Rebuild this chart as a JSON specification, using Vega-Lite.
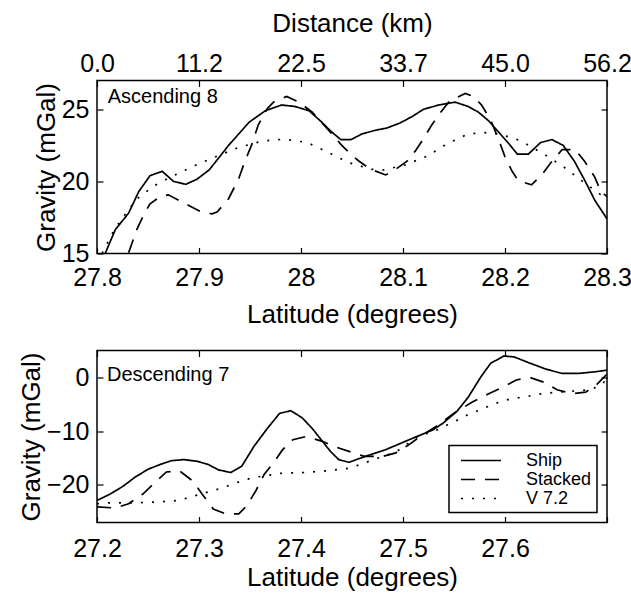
{
  "$schema": "https://vega.github.io/schema/vega-lite/v6.json",
  "padding": {"left": 17, "top": 9.5, "right": 0, "bottom": 0},
  "config": {
    "font": "Liberation Sans",
    "view": {"stroke": "black", "strokeWidth": 1.5},
    "axis": {"grid": false, "domain": false, "tickColor": "black", "tickWidth": 1.2, "tickSize": -6, "labelColor": "black", "titleColor": "black", "labelFontSize": 25, "titleFontSize": 26, "titleFontWeight": "normal", "labelFlush": false, "labelOverlap": false, "labelBound": false},
    "legend": {"strokeWidth": 1.5},
    "text": {"color": "black"}
  },
  "datasets": {
    "asc": [
      {"series":"Ship","lat":27.808,"grav":15.0},{"series":"Ship","lat":27.818,"grav":16.66},{"series":"Ship","lat":27.831,"grav":17.8},{"series":"Ship","lat":27.841,"grav":19.3},{"series":"Ship","lat":27.852,"grav":20.4},{"series":"Ship","lat":27.864,"grav":20.7},{"series":"Ship","lat":27.875,"grav":20.0},{"series":"Ship","lat":27.887,"grav":19.8},{"series":"Ship","lat":27.898,"grav":20.15},{"series":"Ship","lat":27.910,"grav":20.8},{"series":"Ship","lat":27.919,"grav":21.6},{"series":"Ship","lat":27.929,"grav":22.5},{"series":"Ship","lat":27.939,"grav":23.3},{"series":"Ship","lat":27.949,"grav":24.1},{"series":"Ship","lat":27.965,"grav":24.9},{"series":"Ship","lat":27.981,"grav":25.3},{"series":"Ship","lat":27.994,"grav":25.2},{"series":"Ship","lat":28.008,"grav":24.9},{"series":"Ship","lat":28.019,"grav":24.2},{"series":"Ship","lat":28.029,"grav":23.5},{"series":"Ship","lat":28.039,"grav":22.9},{"series":"Ship","lat":28.049,"grav":22.9},{"series":"Ship","lat":28.060,"grav":23.3},{"series":"Ship","lat":28.073,"grav":23.55},{"series":"Ship","lat":28.084,"grav":23.7},{"series":"Ship","lat":28.097,"grav":24.05},{"series":"Ship","lat":28.109,"grav":24.5},{"series":"Ship","lat":28.120,"grav":25.0},{"series":"Ship","lat":28.135,"grav":25.3},{"series":"Ship","lat":28.151,"grav":25.5},{"series":"Ship","lat":28.164,"grav":25.2},{"series":"Ship","lat":28.174,"grav":24.8},{"series":"Ship","lat":28.184,"grav":24.2},{"series":"Ship","lat":28.194,"grav":23.4},{"series":"Ship","lat":28.204,"grav":22.6},{"series":"Ship","lat":28.212,"grav":21.9},{"series":"Ship","lat":28.223,"grav":21.9},{"series":"Ship","lat":28.235,"grav":22.7},{"series":"Ship","lat":28.246,"grav":22.9},{"series":"Ship","lat":28.257,"grav":22.5},{"series":"Ship","lat":28.268,"grav":21.4},{"series":"Ship","lat":28.278,"grav":20.1},{"series":"Ship","lat":28.288,"grav":18.7},{"series":"Ship","lat":28.3,"grav":17.4},
      {"series":"Stacked","lat":27.831,"grav":15.05},{"series":"Stacked","lat":27.839,"grav":16.66},{"series":"Stacked","lat":27.846,"grav":17.7},{"series":"Stacked","lat":27.852,"grav":18.45},{"series":"Stacked","lat":27.862,"grav":18.95},{"series":"Stacked","lat":27.870,"grav":19.07},{"series":"Stacked","lat":27.880,"grav":18.7},{"series":"Stacked","lat":27.890,"grav":18.33},{"series":"Stacked","lat":27.903,"grav":17.85},{"series":"Stacked","lat":27.913,"grav":17.75},{"series":"Stacked","lat":27.918,"grav":17.9},{"series":"Stacked","lat":27.929,"grav":18.8},{"series":"Stacked","lat":27.939,"grav":20.2},{"series":"Stacked","lat":27.945,"grav":21.4},{"series":"Stacked","lat":27.952,"grav":22.6},{"series":"Stacked","lat":27.958,"grav":23.9},{"series":"Stacked","lat":27.967,"grav":25.05},{"series":"Stacked","lat":27.973,"grav":25.5},{"series":"Stacked","lat":27.986,"grav":25.9},{"series":"Stacked","lat":27.998,"grav":25.5},{"series":"Stacked","lat":28.011,"grav":24.8},{"series":"Stacked","lat":28.024,"grav":23.8},{"series":"Stacked","lat":28.040,"grav":22.5},{"series":"Stacked","lat":28.050,"grav":21.8},{"series":"Stacked","lat":28.057,"grav":21.4},{"series":"Stacked","lat":28.068,"grav":20.85},{"series":"Stacked","lat":28.083,"grav":20.45},{"series":"Stacked","lat":28.092,"grav":20.8},{"series":"Stacked","lat":28.104,"grav":21.4},{"series":"Stacked","lat":28.112,"grav":22.1},{"series":"Stacked","lat":28.120,"grav":22.95},{"series":"Stacked","lat":28.128,"grav":23.9},{"series":"Stacked","lat":28.137,"grav":24.8},{"series":"Stacked","lat":28.146,"grav":25.6},{"series":"Stacked","lat":28.161,"grav":26.1},{"series":"Stacked","lat":28.169,"grav":25.9},{"series":"Stacked","lat":28.177,"grav":25.3},{"series":"Stacked","lat":28.186,"grav":24.25},{"series":"Stacked","lat":28.194,"grav":22.86},{"series":"Stacked","lat":28.200,"grav":21.7},{"series":"Stacked","lat":28.207,"grav":20.7},{"series":"Stacked","lat":28.213,"grav":20.05},{"series":"Stacked","lat":28.226,"grav":19.76},{"series":"Stacked","lat":28.236,"grav":20.45},{"series":"Stacked","lat":28.246,"grav":21.4},{"series":"Stacked","lat":28.256,"grav":22.2},{"series":"Stacked","lat":28.269,"grav":22.2},{"series":"Stacked","lat":28.278,"grav":21.4},{"series":"Stacked","lat":28.288,"grav":20.3},{"series":"Stacked","lat":28.294,"grav":19.3},{"series":"Stacked","lat":28.3,"grav":18.95},
      {"series":"V 7.2","lat":27.805,"grav":15.0},{"series":"V 7.2","lat":27.817,"grav":16.66},{"series":"V 7.2","lat":27.838,"grav":18.72},{"series":"V 7.2","lat":27.856,"grav":19.7},{"series":"V 7.2","lat":27.875,"grav":20.4},{"series":"V 7.2","lat":27.896,"grav":21.1},{"series":"V 7.2","lat":27.918,"grav":21.76},{"series":"V 7.2","lat":27.939,"grav":22.36},{"series":"V 7.2","lat":27.962,"grav":22.8},{"series":"V 7.2","lat":27.983,"grav":22.93},{"series":"V 7.2","lat":28.006,"grav":22.7},{"series":"V 7.2","lat":28.027,"grav":22.0},{"series":"V 7.2","lat":28.047,"grav":21.3},{"series":"V 7.2","lat":28.069,"grav":20.84},{"series":"V 7.2","lat":28.081,"grav":20.8},{"series":"V 7.2","lat":28.102,"grav":21.14},{"series":"V 7.2","lat":28.124,"grav":21.76},{"series":"V 7.2","lat":28.143,"grav":22.6},{"series":"V 7.2","lat":28.164,"grav":23.3},{"series":"V 7.2","lat":28.186,"grav":23.4},{"series":"V 7.2","lat":28.209,"grav":23.0},{"series":"V 7.2","lat":28.218,"grav":22.7},{"series":"V 7.2","lat":28.238,"grav":21.9},{"series":"V 7.2","lat":28.258,"grav":20.98},{"series":"V 7.2","lat":28.275,"grav":20.06},{"series":"V 7.2","lat":28.294,"grav":19.07},{"series":"V 7.2","lat":28.3,"grav":18.8}
    ],
    "desc": [
      {"series":"Ship","lat":27.2,"grav":-22.9},{"series":"Ship","lat":27.213,"grav":-21.7},{"series":"Ship","lat":27.226,"grav":-20.2},{"series":"Ship","lat":27.237,"grav":-18.6},{"series":"Ship","lat":27.250,"grav":-17.1},{"series":"Ship","lat":27.262,"grav":-16.2},{"series":"Ship","lat":27.273,"grav":-15.5},{"series":"Ship","lat":27.285,"grav":-15.3},{"series":"Ship","lat":27.298,"grav":-15.6},{"series":"Ship","lat":27.309,"grav":-16.2},{"series":"Ship","lat":27.319,"grav":-17.2},{"series":"Ship","lat":27.331,"grav":-17.7},{"series":"Ship","lat":27.342,"grav":-16.5},{"series":"Ship","lat":27.354,"grav":-12.8},{"series":"Ship","lat":27.367,"grav":-9.5},{"series":"Ship","lat":27.379,"grav":-6.7},{"series":"Ship","lat":27.390,"grav":-6.2},{"series":"Ship","lat":27.401,"grav":-7.5},{"series":"Ship","lat":27.411,"grav":-9.5},{"series":"Ship","lat":27.421,"grav":-11.9},{"series":"Ship","lat":27.429,"grav":-13.8},{"series":"Ship","lat":27.437,"grav":-15.3},{"series":"Ship","lat":27.447,"grav":-15.8},{"series":"Ship","lat":27.463,"grav":-14.7},{"series":"Ship","lat":27.483,"grav":-13.45},{"series":"Ship","lat":27.506,"grav":-11.6},{"series":"Ship","lat":27.529,"grav":-9.8},{"series":"Ship","lat":27.539,"grav":-8.55},{"series":"Ship","lat":27.553,"grav":-6.3},{"series":"Ship","lat":27.564,"grav":-3.67},{"series":"Ship","lat":27.576,"grav":0.0},{"series":"Ship","lat":27.586,"grav":2.63},{"series":"Ship","lat":27.599,"grav":3.98},{"series":"Ship","lat":27.609,"grav":3.8},{"series":"Ship","lat":27.623,"grav":2.75},{"series":"Ship","lat":27.640,"grav":1.54},{"series":"Ship","lat":27.656,"grav":0.73},{"series":"Ship","lat":27.672,"grav":0.73},{"series":"Ship","lat":27.689,"grav":1.05},{"series":"Ship","lat":27.7,"grav":1.35},
      {"series":"Stacked","lat":27.2,"grav":-24.1},{"series":"Stacked","lat":27.218,"grav":-24.3},{"series":"Stacked","lat":27.231,"grav":-23.5},{"series":"Stacked","lat":27.245,"grav":-21.7},{"series":"Stacked","lat":27.255,"grav":-19.9},{"series":"Stacked","lat":27.268,"grav":-17.6},{"series":"Stacked","lat":27.281,"grav":-17.4},{"series":"Stacked","lat":27.294,"grav":-19.3},{"series":"Stacked","lat":27.303,"grav":-21.7},{"series":"Stacked","lat":27.314,"grav":-24.5},{"series":"Stacked","lat":27.326,"grav":-25.4},{"series":"Stacked","lat":27.339,"grav":-25.4},{"series":"Stacked","lat":27.347,"grav":-23.85},{"series":"Stacked","lat":27.356,"grav":-21.0},{"series":"Stacked","lat":27.364,"grav":-18.0},{"series":"Stacked","lat":27.373,"grav":-15.9},{"series":"Stacked","lat":27.382,"grav":-13.45},{"series":"Stacked","lat":27.392,"grav":-11.6},{"series":"Stacked","lat":27.405,"grav":-11.0},{"series":"Stacked","lat":27.421,"grav":-11.9},{"series":"Stacked","lat":27.434,"grav":-12.95},{"series":"Stacked","lat":27.447,"grav":-13.76},{"series":"Stacked","lat":27.462,"grav":-14.7},{"series":"Stacked","lat":27.480,"grav":-14.7},{"series":"Stacked","lat":27.493,"grav":-14.05},{"series":"Stacked","lat":27.506,"grav":-12.5},{"series":"Stacked","lat":27.519,"grav":-10.7},{"series":"Stacked","lat":27.532,"grav":-9.2},{"series":"Stacked","lat":27.552,"grav":-6.4},{"series":"Stacked","lat":27.568,"grav":-4.6},{"series":"Stacked","lat":27.584,"grav":-3.05},{"series":"Stacked","lat":27.598,"grav":-1.83},{"series":"Stacked","lat":27.611,"grav":-0.48},{"series":"Stacked","lat":27.624,"grav":0.0},{"series":"Stacked","lat":27.638,"grav":-0.9},{"series":"Stacked","lat":27.651,"grav":-2.3},{"series":"Stacked","lat":27.666,"grav":-3.05},{"series":"Stacked","lat":27.679,"grav":-2.75},{"series":"Stacked","lat":27.689,"grav":-1.5},{"series":"Stacked","lat":27.7,"grav":0.6},
      {"series":"V 7.2","lat":27.2,"grav":-23.5},{"series":"V 7.2","lat":27.211,"grav":-23.35},{"series":"V 7.2","lat":27.234,"grav":-23.35},{"series":"V 7.2","lat":27.257,"grav":-23.2},{"series":"V 7.2","lat":27.280,"grav":-22.9},{"series":"V 7.2","lat":27.291,"grav":-22.3},{"series":"V 7.2","lat":27.313,"grav":-21.1},{"series":"V 7.2","lat":27.324,"grav":-20.5},{"series":"V 7.2","lat":27.335,"grav":-19.7},{"series":"V 7.2","lat":27.347,"grav":-18.95},{"series":"V 7.2","lat":27.358,"grav":-18.5},{"series":"V 7.2","lat":27.369,"grav":-18.2},{"series":"V 7.2","lat":27.380,"grav":-17.85},{"series":"V 7.2","lat":27.403,"grav":-17.7},{"series":"V 7.2","lat":27.425,"grav":-17.4},{"series":"V 7.2","lat":27.447,"grav":-16.9},{"series":"V 7.2","lat":27.460,"grav":-16.1},{"series":"V 7.2","lat":27.471,"grav":-15.3},{"series":"V 7.2","lat":27.483,"grav":-14.55},{"series":"V 7.2","lat":27.494,"grav":-13.76},{"series":"V 7.2","lat":27.512,"grav":-11.3},{"series":"V 7.2","lat":27.524,"grav":-10.4},{"series":"V 7.2","lat":27.535,"grav":-9.65},{"series":"V 7.2","lat":27.545,"grav":-8.7},{"series":"V 7.2","lat":27.555,"grav":-7.8},{"series":"V 7.2","lat":27.564,"grav":-6.9},{"series":"V 7.2","lat":27.576,"grav":-6.0},{"series":"V 7.2","lat":27.586,"grav":-5.2},{"series":"V 7.2","lat":27.597,"grav":-4.4},{"series":"V 7.2","lat":27.609,"grav":-3.85},{"series":"V 7.2","lat":27.619,"grav":-3.67},{"series":"V 7.2","lat":27.630,"grav":-3.23},{"series":"V 7.2","lat":27.642,"grav":-2.9},{"series":"V 7.2","lat":27.663,"grav":-2.6},{"series":"V 7.2","lat":27.684,"grav":-2.3},{"series":"V 7.2","lat":27.696,"grav":-1.2},{"series":"V 7.2","lat":27.7,"grav":0.0}
    ]
  },
  "spacing": 20,
  "resolve": {"scale": {"strokeDash": "independent"}, "legend": {"strokeDash": "independent"}},
  "vconcat": [
    {
      "width": 510,
      "height": 173,
      "layer": [
        {
          "data": {"name": "asc"},
          "mark": {"type": "line", "color": "black", "strokeWidth": 1.7, "clip": true},
          "encoding": {
            "x": {"field": "lat", "type": "quantitative", "scale": {"domain": [27.8, 28.3], "nice": false, "zero": false},
                  "axis": {"orient": "bottom", "values": [27.8, 27.9, 28, 28.1, 28.2, 28.3], "labelExpr": "'' + datum.value", "title": "Latitude (degrees)", "labelPadding": 17.5, "titlePadding": 11.5}},
            "y": {"field": "grav", "type": "quantitative", "scale": {"domain": [15, 27], "nice": false, "zero": false},
                  "axis": {"orient": "left", "values": [15, 20, 25], "title": "Gravity (mGal)", "labelPadding": 14, "titlePadding": 2}},
            "strokeDash": {"field": "series", "type": "nominal", "scale": {"domain": ["Ship", "Stacked", "V 7.2"], "range": [[1, 0], [14, 10], [2, 9]]}, "legend": null}
          }
        },
        {
          "data": {"values": [{"label": "Ascending 8", "lat": 27.8105, "grav": 25.43}]},
          "mark": {"type": "text", "align": "left", "baseline": "alphabetic", "fontSize": 20, "color": "black"},
          "encoding": {
            "x": {"field": "lat", "type": "quantitative",
                  "axis": {"orient": "top", "values": [27.8, 27.9, 28, 28.1, 28.2, 28.3], "labelExpr": "format((datum.value - 27.8) * 112.4, '.1f')", "title": "Distance (km)", "labelPadding": 10, "titlePadding": 15}},
            "y": {"field": "grav", "type": "quantitative",
                  "axis": {"orient": "right", "values": [15, 20, 25], "labels": false, "title": null}},
            "text": {"field": "label"}
          }
        }
      ],
      "resolve": {"axis": {"x": "independent", "y": "independent"}}
    },
    {
      "width": 510,
      "height": 172,
      "layer": [
        {
          "data": {"name": "desc"},
          "mark": {"type": "line", "color": "black", "strokeWidth": 1.7, "clip": true},
          "encoding": {
            "x": {"field": "lat", "type": "quantitative", "scale": {"domain": [27.2, 27.7], "nice": false, "zero": false},
                  "axis": {"orient": "bottom", "values": [27.2, 27.3, 27.4, 27.5, 27.6, 27.7], "labelExpr": "datum.value > 27.65 ? '' : '' + datum.value", "title": "Latitude (degrees)", "labelPadding": 20, "titlePadding": 3}},
            "y": {"field": "grav", "type": "quantitative", "scale": {"domain": [-27, 5], "nice": false, "zero": false},
                  "axis": {"orient": "left", "values": [-20, -10, 0], "title": "Gravity (mGal)", "labelPadding": 14, "titlePadding": 2}},
            "strokeDash": {"field": "series", "type": "nominal", "scale": {"domain": ["Ship", "Stacked", "V 7.2"], "range": [[1, 0], [14, 10], [2, 9]]},
                  "legend": {"orient": "none", "legendX": 352, "legendY": 95, "title": null, "symbolType": "M-2.222,0H2.222", "symbolSize": 324, "symbolStrokeWidth": 1.6, "symbolStrokeColor": "black", "symbolOffset": 17, "labelFontSize": 18, "labelColor": "black", "labelOffset": 35, "padding": 5, "rowPadding": -1.5, "strokeColor": "black"}}
          }
        },
        {
          "data": {"values": [{"label": "Descending 7", "lat": 27.2098, "grav": -0.6}]},
          "mark": {"type": "text", "align": "left", "baseline": "alphabetic", "fontSize": 20, "color": "black"},
          "encoding": {
            "x": {"field": "lat", "type": "quantitative",
                  "axis": {"orient": "top", "values": [27.2, 27.3, 27.4, 27.5, 27.6, 27.7], "labels": false, "title": null}},
            "y": {"field": "grav", "type": "quantitative",
                  "axis": {"orient": "right", "values": [-20, -10, 0], "labels": false, "title": null}},
            "text": {"field": "label"}
          }
        }
      ],
      "resolve": {"axis": {"x": "independent", "y": "independent"}}
    }
  ]
}
